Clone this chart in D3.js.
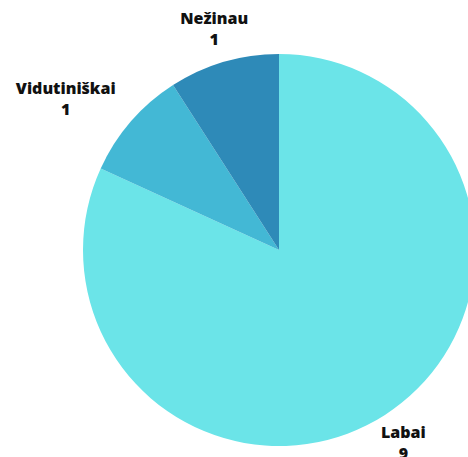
<!DOCTYPE html>
<html>
<head>
<meta charset="utf-8">
<script src="https://cdn.jsdelivr.net/npm/d3@7"></script>
<style>
  html, body { margin: 0; padding: 0; background: #ffffff; overflow: hidden; }
  svg { display: block; }
  text { font-family: "Open Sans", "Noto Sans", sans-serif; font-weight: 800; fill: #111111; }
</style>
</head>
<body>
<svg id="chart" width="468" height="457"></svg>
<script>
const categories = ["Labai", "Vidutiniškai", "Nežinau"];
const values = [9, 1, 1];
const colors = ["#6be4e8", "#43b8d5", "#2e8ab8"];

const width = 468, height = 457;
const cx = 279, cy = 250, radius = 196;

const svg = d3.select("#chart");
const g = svg.append("g").attr("transform", `translate(${cx},${cy})`);

const data = categories.map((c, i) => ({ name: c, value: values[i], color: colors[i] }));

const pie = d3.pie().value(d => d.value).sort(null);
const arc = d3.arc().innerRadius(0).outerRadius(radius);
const labelArc = d3.arc().innerRadius(230).outerRadius(230);

const arcs = pie(data);

g.selectAll("path.slice")
  .data(arcs)
  .enter().append("path")
  .attr("class", "slice")
  .attr("d", arc)
  .attr("fill", d => d.data.color);

const labels = g.selectAll("g.label")
  .data(arcs)
  .enter().append("g")
  .attr("class", "label");

labels.append("text")
  .attr("class", "name")
  .attr("text-anchor", "middle")
  .attr("y", -5)
  .style("font-size", "16px")
  .text(d => d.data.name);

labels.append("text")
  .attr("text-anchor", "middle")
  .attr("y", 16)
  .style("font-size", "16px")
  .text(d => d.data.value);

labels.attr("transform", function(d) {
  let [x, y] = labelArc.centroid(d);
  const w = d3.select(this).select("text.name").node().getComputedTextLength();
  const halfW = w / 2;
  // keep label well clear of the pie edge on the left side
  if (Math.abs(y) < radius && x < 0) {
    const edge = -Math.sqrt(radius * radius - y * y);
    if (x + halfW > edge - 38) x = edge - 38 - halfW;
  }
  return `translate(${x},${y})`;
});
</script>
</body>
</html>
